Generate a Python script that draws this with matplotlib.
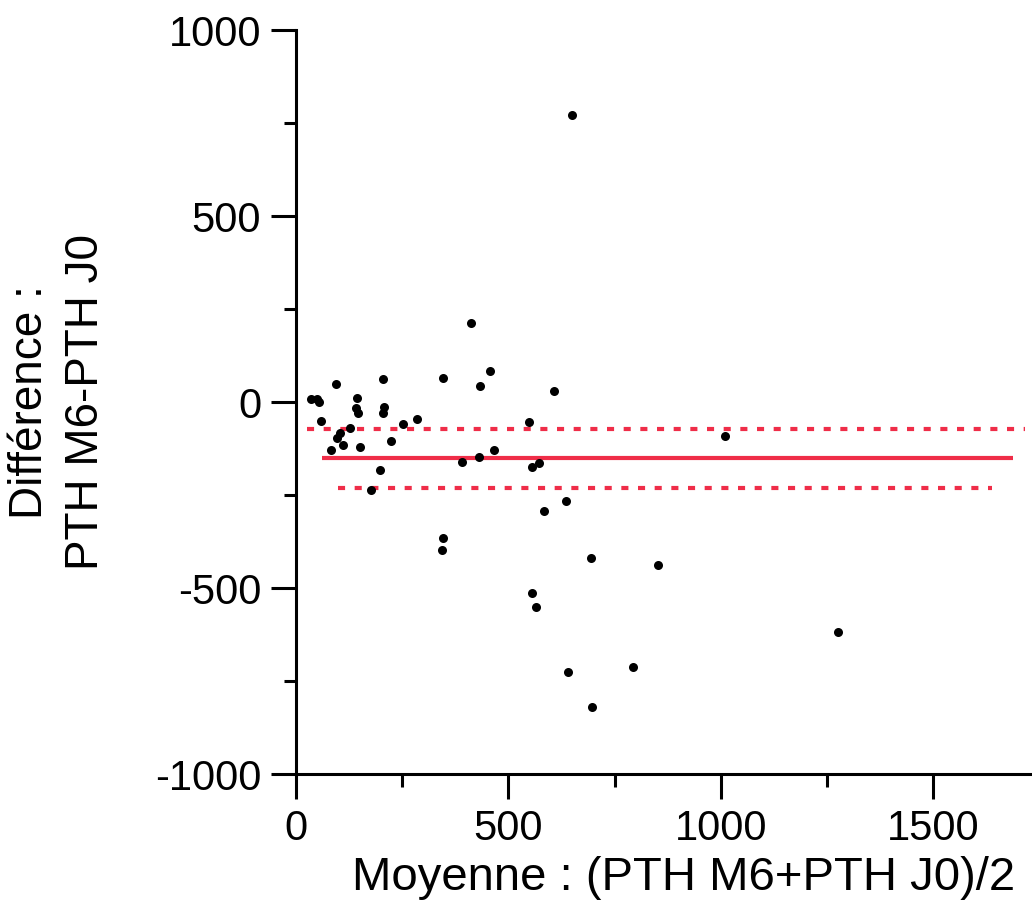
import numpy as np
import matplotlib
matplotlib.use('Agg')
import matplotlib.pyplot as plt
from matplotlib.ticker import MultipleLocator

plt.rcParams['font.family'] = ['Liberation Sans', 'DejaVu Sans']
plt.rcParams['axes.unicode_minus'] = False

# moyenne (x) et difference (y)
moyenne = [35, 50, 55, 59, 94, 82, 96, 103, 111, 127, 144, 141, 145, 151, 176, 198,
           204, 207, 206, 223, 251, 285, 345, 347, 343, 412, 433, 457, 392, 430, 466,
           549, 607, 555, 573, 584, 636, 694, 556, 853, 564, 1277, 640, 793, 697,
           1011, 649]
difference = [10, 8, 1, -50, 49, -128, -97, -84, -115, -68, 12, -16, -30, -120, -236, -182,
              62, -12, -30, -104, -59, -46, 64, -366, -397, 212, 44, 83, -160, -148, -128,
              -54, 31, -173, -163, -292, -265, -418, -512, -437, -551, -619, -725, -713, -819,
              -91, 773]

# droites : (niveau, x debut, x fin)
moy_diff = -149
lim_haut = -73
lim_bas = -230
moy_x = [62, 1688]
haut_x = [26, 1716]
bas_x = [98, 1638]

rouge = '#ef2d48'

fig = plt.figure(figsize=(10.32, 9.07), dpi=100)
ax = fig.add_axes([0.2868, 0.1466, 0.7132, 0.8198])

ax.plot(moy_x, [moy_diff, moy_diff], color=rouge, lw=3, solid_capstyle='butt')
ax.plot(haut_x, [lim_haut, lim_haut], color=rouge, lw=3, dashes=(1.7, 2.3))
ax.plot(bas_x, [lim_bas, lim_bas], color=rouge, lw=3, dashes=(1.7, 2.3))
ax.plot(moyenne, difference, 'o', color='k', ms=6.5, mew=0)

ax.set_xlim(0, 1733)
ax.set_ylim(-1000, 1000)
ax.xaxis.set_major_locator(MultipleLocator(500))
ax.xaxis.set_minor_locator(MultipleLocator(250))
ax.yaxis.set_major_locator(MultipleLocator(500))
ax.yaxis.set_minor_locator(MultipleLocator(250))

for s in ['top', 'right']: ax.spines[s].set_visible(False)
for s in ['left', 'bottom']: ax.spines[s].set_linewidth(2.2)
ax.tick_params(which='major', length=18, width=2.2, pad=7, labelsize=30)
ax.tick_params(which='minor', length=9, width=2.2)

ax.set_xlabel('Moyenne : (PTH M6+PTH J0)/2', fontsize=34)
ax.xaxis.set_label_coords(0.526, -0.11)
ax.set_ylabel('Différence :\nPTH M6-PTH J0', fontsize=33, linespacing=1.35)
ax.yaxis.set_label_coords(-0.255, 0.5)

fig.savefig('out.png', dpi=100)
